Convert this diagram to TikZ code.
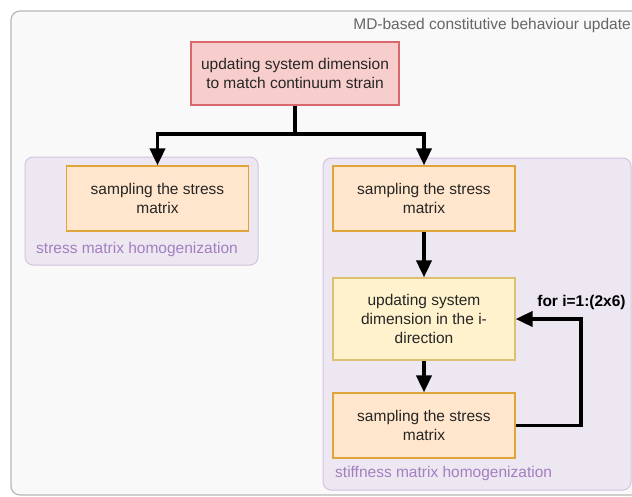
\documentclass[tikz,border=0pt]{standalone}
\usepackage{fontspec}
\setmainfont{Liberation Sans}
\usetikzlibrary{arrows.meta}
\definecolor{outerfill}{HTML}{F9F9F9}
\definecolor{outerline}{HTML}{B8B8B8}
\definecolor{groupfill}{HTML}{EDE7F1}
\definecolor{groupline}{HTML}{D3C3DF}
\definecolor{grouptext}{HTML}{A47FC0}
\definecolor{redfill}{HTML}{F8CECC}
\definecolor{redline}{HTML}{D9676B}
\definecolor{orangefill}{HTML}{FFE6CC}
\definecolor{orangeline}{HTML}{E0A53A}
\definecolor{yellowfill}{HTML}{FFF2CC}
\definecolor{yellowline}{HTML}{DDC071}
\definecolor{boxtext}{HTML}{262626}
\tikzset{
  every node/.style={font=\fontsize{15.5}{18.6}\selectfont},
  procbox/.style={draw, line width=1.2pt, minimum width=182pt, align=center,
                  text=boxtext, inner sep=2pt},
  redbox/.style={procbox, fill=redfill, draw=redline, minimum width=208pt, minimum height=63pt},
  samplebox/.style={procbox, fill=orangefill, draw=orangeline, minimum height=65pt},
  updatebox/.style={procbox, fill=yellowfill, draw=yellowline, minimum height=82pt},
  groupframe/.style={draw=groupline, fill=groupfill, line width=1pt, rounded corners=8pt},
  grouplabel/.style={text=grouptext, anchor=west, inner sep=0pt},
  flow/.style={line width=3.8pt, line join=miter, -{Triangle[width=15pt,length=17pt]}}
}
\begin{document}
\begin{tikzpicture}[x=1pt, y=-1pt]
  \useasboundingbox (0,0) rectangle (632,496);
  \clip (0,0) rectangle (632,496);
  \fill[white] (0,0) rectangle (632,496);

  % outer container
  \draw[draw=outerline, fill=outerfill, line width=1.2pt, rounded corners=9pt]
    (11,11) rectangle (660,495);
  \node[anchor=east, text=black!60, inner sep=0pt] (title) at (631,25)
    {MD-based constitutive behaviour update};

  % groups
  \draw[groupframe] (25,157) rectangle (258,265);
  \node[grouplabel] (glabA) at (36,249) {stress matrix homogenization};
  \draw[groupframe] (323,158) rectangle (631,490);
  \node[grouplabel] (glabB) at (335,473) {stiffness matrix homogenization};

  % process boxes
  \node[redbox] (top) at (295,73.5) {updating system dimension\\to match continuum strain};
  \node[samplebox] (sA) at (157.5,198.5) {sampling the stress\\matrix};
  \node[samplebox] (sB) at (424,198.5) {sampling the stress\\matrix};
  \node[updatebox] (upd) at (424,319) {updating system\\dimension in the i-\\direction};
  \node[samplebox] (sC) at (424,425.5) {sampling the stress\\matrix};

  % connectors
  \draw[line width=3.8pt] (top.south) -- ++(0,30) coordinate (split);
  \draw[flow] ([yshift=1.9pt]split) -| (sA.north);
  \draw[flow] ([yshift=1.9pt]split) -| (sB.north);
  \draw[flow] (sB.south) -- (upd.north);
  \draw[flow] (upd.south) -- (sC.north);
  \draw[flow] (sC.east) -- ++(65,0) coordinate (loopc) |- (upd.east);
  \node[font=\fontsize{15.5}{18.6}\selectfont\bfseries, anchor=south, inner sep=0pt]
    (looplabel) at (581.5,310) {for i=1:(2x6)};
\end{tikzpicture}
\end{document}
